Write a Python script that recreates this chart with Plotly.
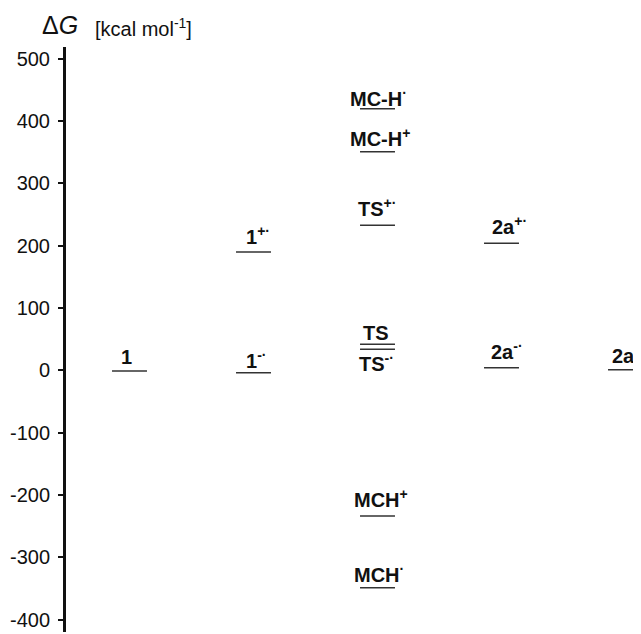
import plotly.graph_objects as go

# ---- data ----
labels = ["1", "1<sup>+·</sup>", "1<sup>-·</sup>", "MC-H<sup>·</sup>", "MC-H<sup>+</sup>",
          "TS<sup>+·</sup>", "TS", "TS<sup>-·</sup>", "2a<sup>+·</sup>", "2a<sup>-·</sup>",
          "2a", "MCH<sup>+</sup>", "MCH<sup>·</sup>"]
column = [1, 2, 2, 3, 3, 3, 3, 3, 4, 4, 5, 3, 3]
energy = [-1, 190, -4, 420, 351, 233, 42, 34, 204, 4, 1, -234, -349]
tick_vals = [500, 400, 300, 200, 100, 0, -100, -200, -300, -400]
tick_text = ["500", "400", "300", "200", "100", "0", "-100", "-200", "-300", "-400"]

# ---- label placement styles (pixels) ----
label_dx = [9, 10, 10, -10, -10, -2, 3, -1, 8, 7, 4, -6, -6]
label_gap = [8, 9, 6, 4, 7, 10, 5, -6, 10, 10, 8, 10, 7]

HALF = 0.141
LINE_COLOR = "#333333"
FONT = "Liberation Sans, Arial, sans-serif"

fig = go.Figure()
for c, e in zip(column, energy):
    fig.add_trace(go.Scatter(x=[c - HALF, c + HALF], y=[e, e], mode="lines",
                             line=dict(color=LINE_COLOR, width=1.5),
                             hoverinfo="skip", showlegend=False))

for lab, c, e, dx, g in zip(labels, column, energy, label_dx, label_gap):
    if g >= 0:
        fig.add_annotation(x=c - HALF, y=e, xref="x", yref="y", text="<b>" + lab + "</b>",
                           showarrow=False, xanchor="left", yanchor="bottom",
                           xshift=dx, yshift=g - 5, borderpad=0, borderwidth=0,
                           font=dict(family=FONT, size=20, color="#111111"))
    else:
        fig.add_annotation(x=c - HALF, y=e, xref="x", yref="y", text="<b>" + lab + "</b>",
                           showarrow=False, xanchor="left", yanchor="top",
                           xshift=dx, yshift=g + 5, borderpad=0, borderwidth=0,
                           font=dict(family=FONT, size=20, color="#111111"))

# axis title
fig.add_annotation(x=0, y=1, xref="paper", yref="paper", text="Δ<i>G</i>",
                   showarrow=False, xanchor="left", yanchor="bottom", xshift=-24, yshift=8,
                   borderpad=0, borderwidth=0, font=dict(family=FONT, size=25, color="#111111"))
fig.add_annotation(x=0, y=1, xref="paper", yref="paper", text="[kcal mol<sup>-1</sup>]",
                   showarrow=False, xanchor="left", yanchor="bottom", xshift=29, yshift=7,
                   borderpad=0, borderwidth=0, font=dict(family=FONT, size=20, color="#111111"))

# page body has an 8px default margin, so the figure is 8px smaller
fig.update_layout(
    width=633, height=626,
    margin=dict(l=58, r=0, t=39, b=2),
    plot_bgcolor="white", paper_bgcolor="white",
    xaxis=dict(range=[0.4879, 5.125], visible=False),
    yaxis=dict(range=[-420, 519], showgrid=False, zeroline=False,
               showline=True, linewidth=3, linecolor="#111111",
               ticks="outside", ticklen=5, tickwidth=1.5, tickcolor="#111111",
               tickvals=tick_vals, ticktext=tick_text, ticklabelstandoff=4,
               tickfont=dict(family=FONT, size=20, color="#111111")),
)
fig.write_html("out.html")
